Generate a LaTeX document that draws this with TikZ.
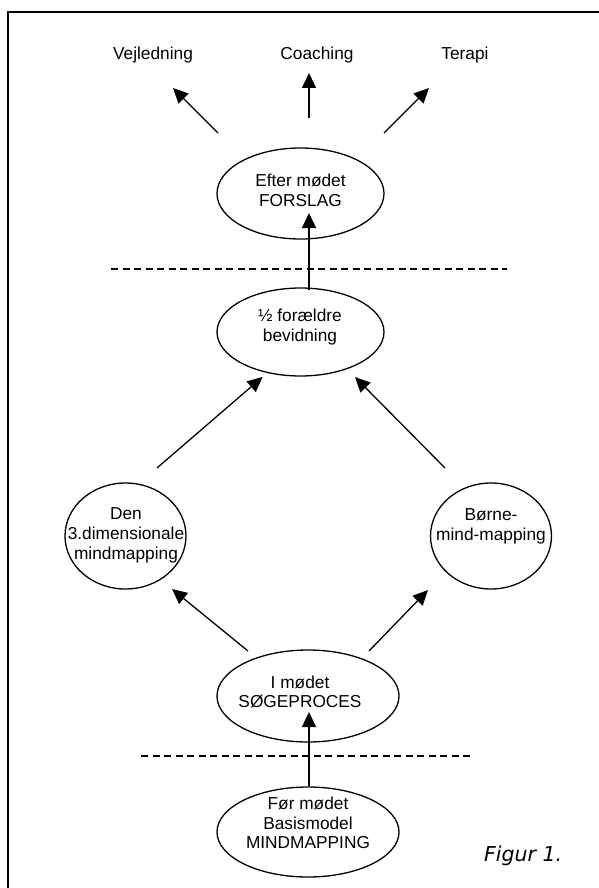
\documentclass[tikz,border=0pt]{standalone}
\usepackage{fontspec}
\setmainfont{Liberation Sans}
\newfontfamily\figfont{DejaVu Sans}
\usetikzlibrary{arrows.meta,shapes.geometric}
\begin{document}
\begin{tikzpicture}[x=1pt,y=-1pt,
  bubble/.style={draw,line width=1.3pt,ellipse,inner sep=0pt},
  txt/.style={align=center,font=\fontsize{17.3}{19.8}\selectfont,inner sep=0pt},
  arr/.style={line width=1.3pt,-{Triangle[length=15pt,width=14pt]}},
  sep/.style={line width=1.1pt,dash pattern=on 7pt off 4.5pt}]
\useasboundingbox (0,0) rectangle (599,888);
\draw[line width=2pt] (8,888) -- (8,12) -- (599,12);
% top labels
\node[txt,anchor=base] (vej) at (153,60) {Vejledning};
\node[txt,anchor=base] (coach) at (317,60) {Coaching};
\node[txt,anchor=base] (ter) at (465,60) {Terapi};
% bubbles
\node[bubble,minimum width=167pt,minimum height=91pt] (efter) at (300.5,193.5) {};
\node[txt] (efterT) at (300.5,190.5) {Efter mødet\\FORSLAG};
\node[bubble,minimum width=167pt,minimum height=88pt] (half) at (300.5,332) {};
\node[txt] (halfT) at (300,327) {½ forældre\\bevidning};
\node[bubble,minimum width=121pt,minimum height=106pt] (dim) at (125.5,536) {};
\node[txt] (dimT) at (126,535.5) {Den\\3.dimensionale\\mindmapping};
\node[bubble,minimum width=121pt,minimum height=106pt] (borne) at (491,536) {};
\node[txt] (borneT) at (491,526.5) {Børne-\\mind-mapping};
\node[bubble,minimum width=182pt,minimum height=92pt] (imoedet) at (308,696) {};
\node[txt] (imoedetT) at (300,692) {I mødet\\SØGEPROCES};
\node[bubble,minimum width=182pt,minimum height=90pt] (foer) at (308,832) {};
\node[txt] (foerT) at (308,823) {Før mødet\\Basismodel\\MINDMAPPING};
\node[anchor=base west,inner sep=0pt,font=\figfont\itshape\fontsize{20.5}{24}\selectfont] (fig) at (484,861) {Figur 1.};
% arrow end points
\coordinate (a1s) at (218,133); \coordinate (a1e) at (173,88);
\coordinate (a2s) at (309,118); \coordinate (a2e) at (309,73);
\coordinate (a3s) at (384,133); \coordinate (a3e) at (429,88);
\coordinate (a4s) at (309,290); \coordinate (a4e) at (309,213);
\coordinate (a5s) at (157,468); \coordinate (a5e) at (262.5,377);
\coordinate (a6s) at (445,468); \coordinate (a6e) at (355,377);
\coordinate (a7s) at (248,651); \coordinate (a7e) at (172,589);
\coordinate (a8s) at (369,651); \coordinate (a8e) at (428,590);
\coordinate (a9s) at (309,786); \coordinate (a9e) at (309,712);
\draw[arr] (a1s) -- (a1e);
\draw[arr] (a2s) -- (a2e);
\draw[arr] (a3s) -- (a3e);
\draw[arr] (a4s) -- (a4e);
\draw[arr] (a5s) -- (a5e);
\draw[arr] (a6s) -- (a6e);
\draw[arr] (a7s) -- (a7e);
\draw[arr] (a8s) -- (a8e);
\draw[arr] (a9s) -- (a9e);
% dashed separators
\coordinate (d1a) at (111,269); \coordinate (d1b) at (507,269);
\coordinate (d2a) at (141,756); \coordinate (d2b) at (470,756);
\draw[sep] (d1a) -- (d1b);
\draw[sep] (d2a) -- (d2b);
\end{tikzpicture}
\end{document}
